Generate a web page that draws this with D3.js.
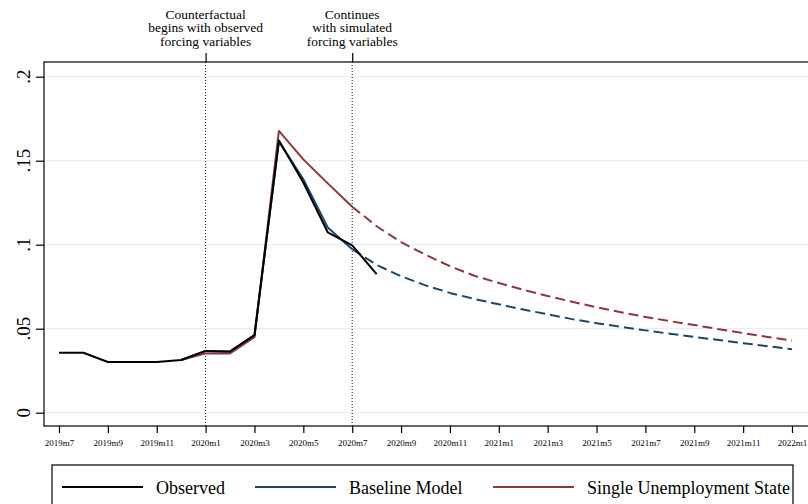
<!DOCTYPE html>
<html>
<head>
<meta charset="utf-8">
<script src="https://cdn.jsdelivr.net/npm/d3@7"></script>
<style>
    body { margin: 0; background: #fff; }
    svg { display: block; font-family: "Liberation Serif", "DejaVu Serif", serif; }
</style>
</head>
<body>
<div id="chart"></div>
<script>
// month labels, 2019m7 .. 2022m1
const months = ["2019m7", "2019m8", "2019m9", "2019m10", "2019m11", "2019m12",
                "2020m1", "2020m2", "2020m3", "2020m4", "2020m5", "2020m6",
                "2020m7", "2020m8", "2020m9", "2020m10", "2020m11", "2020m12",
                "2021m1", "2021m2", "2021m3", "2021m4", "2021m5", "2021m6",
                "2021m7", "2021m8", "2021m9", "2021m10", "2021m11", "2021m12",
                "2022m1"];

// observed rate (ends 2020m8)
const observed = [0.0357, 0.0357, 0.0302, 0.0302, 0.0302, 0.0314, 0.0368, 0.0365,
                  0.0462, 0.1620, 0.1370, 0.1074, 0.0996, 0.0825];

// baseline model (starts 2019m12)
const baseline = [null, null, null, null, null, 0.0314, 0.0367, 0.0363,
                  0.0462, 0.1615, 0.1390, 0.1103, 0.0973, 0.0880, 0.0812, 0.0758,
                  0.0713, 0.0677, 0.0645, 0.0614, 0.0586, 0.0557, 0.0533, 0.0511,
                  0.0490, 0.0470, 0.0451, 0.0433, 0.0414, 0.0396, 0.0378];

// single unemployment state
const single = [null, null, null, null, null, 0.0314, 0.0353, 0.0353,
                0.0449, 0.1677, 0.1508, 0.1365, 0.1226, 0.1110, 0.1015, 0.0940,
                0.0872, 0.0815, 0.0772, 0.0732, 0.0695, 0.0660, 0.0628, 0.0598,
                0.0570, 0.0545, 0.0522, 0.0497, 0.0474, 0.0451, 0.0429];

const simStart = 12;   // 2020m7: simulated forcing variables from here on
const eventMonths = [6, 12];
const eventLabels = [["Counterfactual", "begins with observed", "forcing variables"],
                     ["Continues", "with simulated", "forcing variables"]];
const yTicks = [0, 0.05, 0.1, 0.15, 0.2];
const yTickLabels = ["0", ".05", ".1", ".15", ".2"];
const legendNames = ["Observed", "Baseline Model", "Single Unemployment State"];
const colors = ["#000000", "#1a476f", "#90353b"];

let width = 808;
let height = 504;

let svg = d3.select("#chart").append("svg")
            .attr("width", width)
            .attr("height", height);

let plotLeft = 44, plotTop = 62, plotBottom = 426;

let x = d3.scaleLinear().domain([0, months.length - 1]).range([59, 792]);
let y = d3.scaleLinear().domain([0, 0.2]).range([412.7, 76.7]);

// gridlines
svg.append("g").selectAll("line")
   .data(yTicks)
   .join("line")
   .attr("x1", plotLeft)
   .attr("x2", width)
   .attr("y1", d => y(d))
   .attr("y2", d => y(d))
   .attr("stroke", "#e6eef1")
   .attr("stroke-width", 1.3);

// dotted event lines
svg.append("g").selectAll("line")
   .data(eventMonths)
   .join("line")
   .attr("x1", d => x(d))
   .attr("x2", d => x(d))
   .attr("y1", plotTop)
   .attr("y2", plotBottom)
   .attr("stroke", "#222")
   .attr("stroke-width", 1.1)
   .attr("stroke-dasharray", "1,2");

// series: solid up to simStart, dashed after
let line = d3.line()
             .defined(d => d.v !== null)
             .x(d => x(d.i))
             .y(d => y(d.v));

let toPts = arr => arr.map((v, i) => ({i: i, v: v}));

let series = [
    {pts: toPts(observed), color: colors[0], dashed: false},
    {pts: toPts(baseline).slice(0, simStart + 1), color: colors[1], dashed: false},
    {pts: toPts(single).slice(0, simStart + 1), color: colors[2], dashed: false},
    {pts: toPts(single).slice(simStart), color: colors[2], dashed: true},
    {pts: toPts(baseline).slice(simStart), color: colors[1], dashed: true}
];

// draw red and blue under the black line
let order = [2, 1, 3, 4, 0];
svg.append("g").selectAll("path")
   .data(order.map(k => series[k]))
   .join("path")
   .attr("d", d => line(d.pts))
   .attr("fill", "none")
   .attr("stroke", d => d.color)
   .attr("stroke-width", 2)
   .attr("stroke-linejoin", "round")
   .attr("stroke-dasharray", d => d.dashed ? "10,5" : null);

// plot frame (right side runs off the page)
svg.append("rect")
   .attr("x", plotLeft)
   .attr("y", plotTop)
   .attr("width", width)
   .attr("height", plotBottom - plotTop)
   .attr("fill", "none")
   .attr("stroke", "#000")
   .attr("stroke-width", 1.2);

// y axis
let yAxis = svg.append("g")
               .attr("transform", `translate(${plotLeft},0)`)
               .call(d3.axisLeft(y).tickValues(yTicks).tickSize(8).tickFormat(""));
yAxis.select(".domain").remove();
yAxis.selectAll("line").attr("stroke-width", 1.2);

svg.append("g").selectAll("text")
   .data(yTicks)
   .join("text")
   .attr("transform", d => `translate(30,${y(d)}) rotate(-90)`)
   .attr("text-anchor", "middle")
   .attr("font-size", 19)
   .text((d, i) => yTickLabels[i]);

// x axis
let xTickValues = d3.range(0, months.length, 2);
let xAxis = svg.append("g")
               .attr("transform", `translate(0,${plotBottom})`)
               .call(d3.axisBottom(x).tickValues(xTickValues).tickSize(7).tickPadding(7)
                                     .tickFormat(i => months[i]));
xAxis.select(".domain").remove();
xAxis.selectAll("line").attr("stroke-width", 1.2);
xAxis.selectAll("text")
     .attr("font-family", "Liberation Serif")
     .attr("font-size", 9)
     .attr("fill", "#000");

// top ticks and annotations for the event lines
let topAxis = svg.append("g")
                 .attr("transform", `translate(0,${plotTop})`)
                 .call(d3.axisTop(x).tickValues(eventMonths).tickSize(9).tickFormat(""));
topAxis.select(".domain").remove();
topAxis.selectAll("line").attr("stroke-width", 1.2);

let notes = svg.append("g").selectAll("text")
               .data(eventMonths)
               .join("text")
               .attr("x", d => x(d))
               .attr("text-anchor", "middle")
               .attr("font-size", 13.5);
notes.selectAll("tspan")
     .data((d, i) => eventLabels[i])
     .join("tspan")
     .attr("x", function() { return d3.select(this.parentNode).attr("x"); })
     .attr("y", (d, j) => 18.5 + j * 13.7)
     .text(d => d);

// legend
let legend = svg.append("g");
legend.append("rect")
      .attr("x", 52)
      .attr("y", 465)
      .attr("width", 741)
      .attr("height", 60)
      .attr("fill", "#fff")
      .attr("stroke", "#000")
      .attr("stroke-width", 1.2);

let legendX = [62, 255, 493];
let items = legend.selectAll("g.item")
                  .data(legendNames)
                  .join("g")
                  .attr("class", "item")
                  .attr("transform", (d, i) => `translate(${legendX[i]},487)`);
items.append("line")
     .attr("x1", 0)
     .attr("x2", 81)
     .attr("stroke", (d, i) => colors[i])
     .attr("stroke-width", 2);
items.append("text")
     .attr("x", 94)
     .attr("y", 7)
     .attr("font-size", 18)
     .text(d => d);
</script>
</body>
</html>
